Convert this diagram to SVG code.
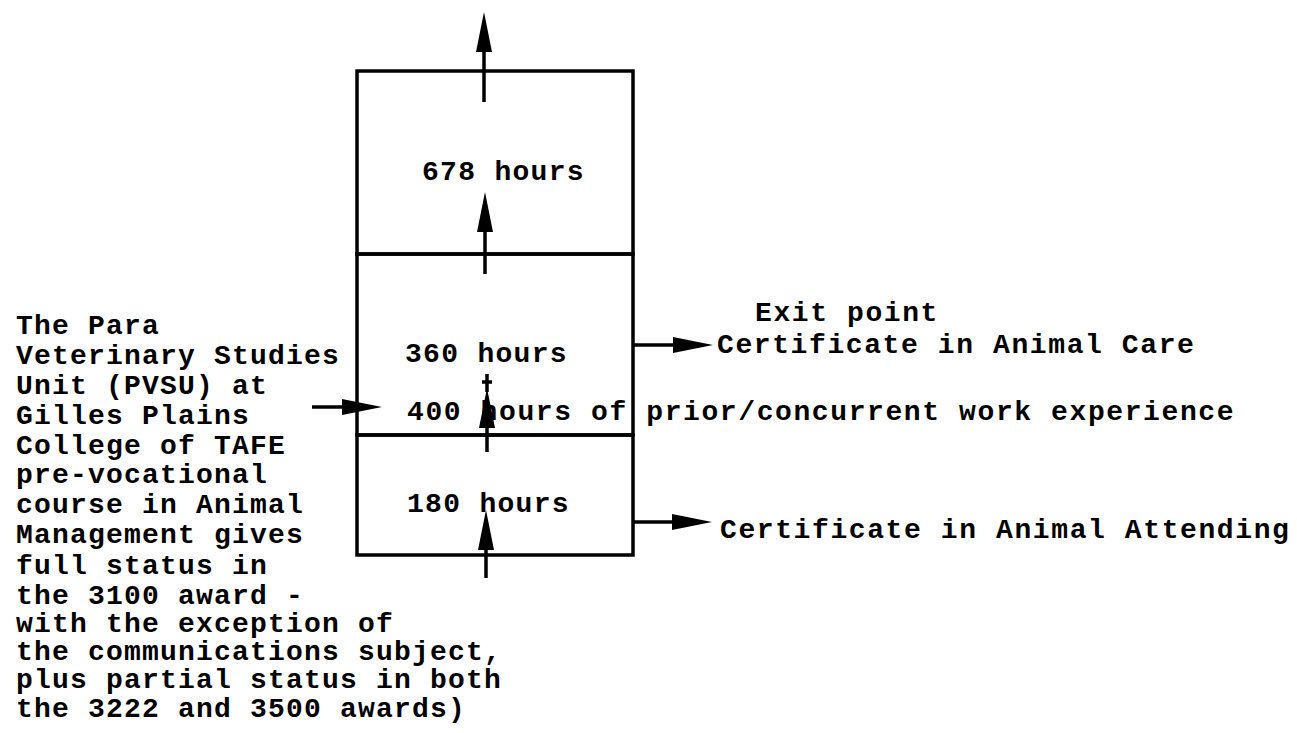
<svg xmlns="http://www.w3.org/2000/svg" width="1297" height="733" viewBox="0 0 1297 733">
<style>
text{font-family:"Liberation Mono","Courier New",monospace;font-weight:bold;font-size:28px;fill:#000;}
.l{letter-spacing:1.2px;}
.r{letter-spacing:1.6px;}
.m{letter-spacing:1.3px;}
.box{fill:none;stroke:#000;stroke-width:3.5;}
.c{stroke:#000;stroke-width:3.5;fill:none;}
</style>
<defs>
<marker id="ah" markerUnits="userSpaceOnUse" markerWidth="40" markerHeight="16" refX="0" refY="8" orient="auto" overflow="visible">
<path d="M0,0 L40,8 L0,16 z" fill="#000"/>
</marker>
</defs>
<rect width="1297" height="733" fill="#fff"/>
<g id="node-678">
<rect class="box" x="357" y="71" width="276" height="183"/>
<text class="m" x="422" y="180">678 hours</text>
</g>
<g id="node-360">
<rect class="box" x="357" y="254" width="276" height="181"/>
<text class="m" x="405" y="362">360 hours</text>
<text class="r" x="407" y="420">400 hours of prior/concurrent work experience</text>
</g>
<g id="node-180">
<rect class="box" x="357" y="435" width="276" height="120"/>
<text class="m" x="407" y="512">180 hours</text>
</g>
<g id="pvsu-note">
<text class="l" x="16" y="334">The Para</text>
<text class="l" x="16" y="364">Veterinary Studies</text>
<text class="l" x="16" y="394">Unit (PVSU) at</text>
<text class="l" x="16" y="424">Gilles Plains</text>
<text class="l" x="16" y="454">College of TAFE</text>
<text class="l" x="16" y="483">pre-vocational</text>
<text class="l" x="16" y="513">course in Animal</text>
<text class="l" x="16" y="543">Management gives</text>
<text class="l" x="16" y="574">full status in</text>
<text class="l" x="16" y="604">the 3100 award -</text>
<text class="l" x="16" y="632">with the exception of</text>
<text class="l" x="16" y="660">the communications subject,</text>
<text class="l" x="16" y="688">plus partial status in both</text>
<text class="l" x="16" y="717">the 3222 and 3500 awards)</text>
</g>
<g id="exit-care">
<text class="r" x="755" y="321">Exit point</text>
<text class="r" x="717" y="353">Certificate in Animal Care</text>
</g>
<g id="exit-attending">
<text class="r" x="720" y="538">Certificate in Animal Attending</text>
</g>
<g id="connectors">
<line class="c" x1="484" y1="102" x2="484" y2="52" marker-end="url(#ah)"/>
<line class="c" x1="485" y1="274" x2="485" y2="232" marker-end="url(#ah)"/>
<line class="c" x1="487" y1="452" x2="487" y2="428" marker-end="url(#ah)"/>
<line class="c" x1="487" y1="374" x2="487" y2="392" stroke-width="3"/>
<line class="c" x1="482" y1="382" x2="492" y2="382" stroke-width="3"/>
<line class="c" x1="486" y1="578" x2="486" y2="550" marker-end="url(#ah)"/>
<line class="c" x1="312" y1="407" x2="342" y2="407" marker-end="url(#ah)"/>
<line class="c" x1="633" y1="345" x2="673" y2="345" marker-end="url(#ah)"/>
<line class="c" x1="633" y1="522" x2="672" y2="522" marker-end="url(#ah)"/>
</g>
</svg>
